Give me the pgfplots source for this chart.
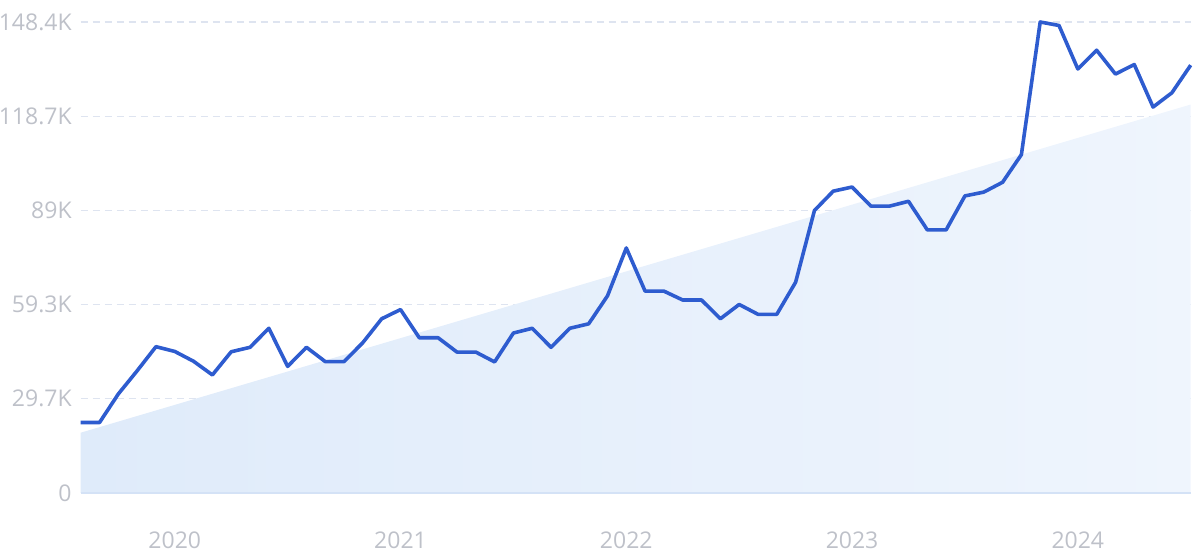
\documentclass[border=0pt]{standalone}
\usepackage{pgfplots}
\pgfplotsset{compat=1.18}
\usepackage{fontspec}
\setmainfont{Open Sans}
\definecolor{linec}{RGB}{46,92,207}
\definecolor{gridc}{RGB}{222,228,240}
\definecolor{basec}{RGB}{212,226,246}
\definecolor{fillL}{RGB}{223,235,250}
\definecolor{fillR}{RGB}{239,245,253}
\definecolor{labc}{RGB}{190,193,201}
\pgfplotstableread{
x y
0 22.2
1 22.2
2 31.2
3 38.5
4 46.1
5 44.6
6 41.5
7 37.2
8 44.5
9 45.9
10 51.9
11 39.9
12 45.9
13 41.4
14 41.4
15 47.4
16 54.9
17 57.8
18 48.9
19 48.9
20 44.4
21 44.4
22 41.3
23 50.4
24 51.9
25 45.9
26 51.9
27 53.3
28 62.1
29 77.2
30 63.6
31 63.6
32 60.8
33 60.8
34 54.9
35 59.4
36 56.3
37 56.3
38 66.4
39 89.0
40 95.1
41 96.4
42 90.4
43 90.4
44 91.9
45 82.9
46 82.9
47 93.6
48 94.8
49 97.9
50 106.6
51 148.4
52 147.3
53 133.6
54 139.5
55 132.0
56 135.0
57 121.6
58 126.1
59 134.8
}\datatable
\pgfplotstableread{
x y
0 19.0
59 122.4
}\trendtable
\begin{document}
\begin{tikzpicture}
\path[use as bounding box] (-40.35pt,-32pt) rectangle (559.65pt,246.5pt);
\begin{axis}[
  at={(0,0)}, anchor=south west,
  scale only axis,
  width=555pt, height=235.5pt,
  xmin=0, xmax=59, ymin=0, ymax=148.4,
  axis line style={draw=none},
  clip=false,
  tick style={draw=none},
  xtick={5,17,29,41,53},
  xticklabels={2020,2021,2022,2023,2024},
  ytick={0,29.68,59.36,89.04,118.72,148.4},
  yticklabels={0,29.7K,59.3K,89K,118.7K,148.4K},
  ymajorgrids,
  major grid style={draw=gridc, dash pattern=on 3.5pt off 2.5pt, line width=0.6pt},
  ticklabel style={font=\fontsize{11.5}{13}\selectfont, text=labc},
  xticklabel style={yshift=-16pt},
  yticklabel style={xshift=-1pt},
  /pgf/number format/assume math mode=true,
]
\addplot[draw=none, left color=fillL, right color=fillR] table[x=x,y=y] {\trendtable} \closedcycle;
\draw[basec, line width=0.8pt] (axis cs:0,0) -- (axis cs:59,0);
\addplot[linec, line width=1.8pt, line join=round, mark=none] table[x=x,y=y] {\datatable};
\end{axis}
\end{tikzpicture}
\end{document}
